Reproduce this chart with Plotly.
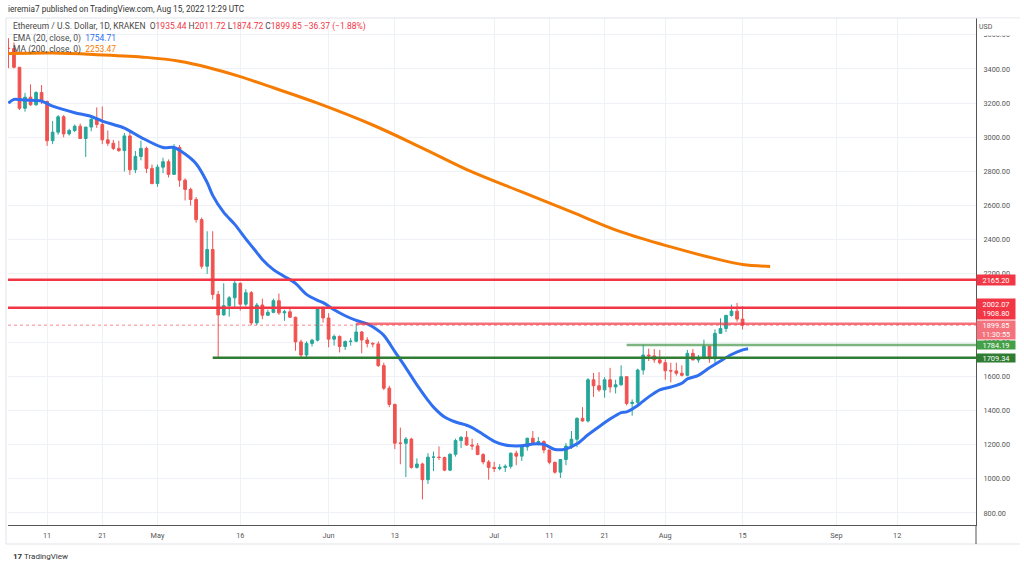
import plotly.graph_objects as go
import pandas as pd

# ---------------- data ----------------
dates = pd.date_range("2022-04-04", "2022-08-15", freq="D")

opens = [3522, 3520, 3410, 3170, 3235, 3190, 3262, 3210, 2980, 3030, 3120, 3020, 3040, 3065, 2993, 3060, 3105, 3075, 2985, 2965, 2935, 2922, 3008, 2810, 2888, 2935, 2818,
         2729, 2825, 2857, 2783, 2940, 2749, 2695, 2636, 2518, 2245, 2343, 2080, 1960, 2014, 2060, 2145, 2023, 2090, 1913, 2018, 1958, 1975, 2043, 1972, 1978, 1946, 1802, 1725, 1793, 1812, 1997,
         1942, 1818, 1834, 1775, 1804, 1806, 1860, 1813, 1793, 1790, 1663, 1531, 1436, 1209, 1208, 1233, 1067, 1087, 995, 1127, 1127, 1125, 1051, 1144, 1224, 1243, 1198, 1193, 1142, 1099,
         1067, 1060, 1067, 1073, 1150, 1133, 1187, 1238, 1212, 1218, 1169, 1097, 1039, 1113, 1192, 1232, 1354, 1339, 1580, 1545, 1521, 1580, 1538, 1551, 1598, 1441, 1448, 1637, 1725, 1720, 1697,
         1680, 1633, 1632, 1618, 1606, 1735, 1696, 1708, 1776, 1703, 1852, 1880, 1957, 1982, 1935.44]
highs = [3580, 3555, 3410, 3260, 3310, 3270, 3306, 3215, 3095, 3130, 3130, 3050, 3075, 3080, 3060, 3125, 3175, 3180, 3040, 2985, 2980, 3025, 3035, 2920, 2980, 2945, 2840,
         2840, 2880, 2870, 2960, 2955, 2760, 2705, 2650, 2530, 2450, 2450, 2100, 2145, 2070, 2160, 2150, 2110, 2100, 2030, 2055, 1990, 2055, 2085, 1990, 2000, 1950, 1815, 1805, 1820, 2005, 2010,
         1970, 1845, 1840, 1810, 1825, 1910, 1865, 1830, 1800, 1805, 1680, 1545, 1440, 1300, 1245, 1240, 1120, 1095, 1150, 1160, 1190, 1130, 1150, 1235, 1250, 1280, 1235, 1210, 1150, 1110,
         1100, 1085, 1085, 1155, 1165, 1190, 1240, 1280, 1245, 1225, 1170, 1100, 1115, 1210, 1280, 1360, 1420, 1590, 1620, 1625, 1595, 1650, 1580, 1665, 1600, 1465, 1645, 1785, 1762, 1760, 1755,
         1700, 1680, 1680, 1665, 1755, 1760, 1725, 1815, 1780, 1875, 1940, 1960, 2020, 2030, 2011.72]
lows = [3405, 3403, 3160, 3150, 3185, 3185, 3195, 2950, 2960, 3015, 3000, 3010, 3030, 2990, 2885, 3035, 3055, 2960, 2950, 2925, 2915, 2800, 2780, 2790, 2865, 2790, 2725,
        2710, 2790, 2765, 2780, 2710, 2630, 2600, 2500, 2230, 2200, 2050, 1708, 1955, 1950, 2000, 1985, 2010, 1900, 1900, 1935, 1955, 1970, 1960, 1925, 1945, 1750, 1705, 1710, 1775, 1805, 1915,
        1770, 1780, 1740, 1755, 1780, 1800, 1735, 1770, 1770, 1655, 1520, 1420, 1175, 1085, 1010, 1060, 1060, 880, 970, 1045, 1110, 1045, 1045, 1130, 1180, 1195, 1170, 1140, 1085, 995,
        1040, 1050, 1040, 1060, 1080, 1105, 1165, 1200, 1195, 1150, 1085, 1030, 1005, 1080, 1175, 1185, 1335, 1330, 1480, 1510, 1475, 1505, 1500, 1545, 1430, 1370, 1420, 1610, 1690, 1680, 1670,
        1580, 1565, 1605, 1600, 1600, 1700, 1680, 1700, 1680, 1670, 1850, 1860, 1950, 1920, 1874.72]
closes = [3520, 3410, 3170, 3235, 3190, 3262, 3210, 2980, 3030, 3120, 3020, 3040, 3065, 2993, 3060, 3105, 3075, 2985, 2965, 2935, 2922, 3008, 2810, 2888, 2935, 2818, 2729,
          2825, 2857, 2783, 2940, 2749, 2695, 2636, 2518, 2245, 2343, 2080, 1960, 2014, 2060, 2145, 2023, 2090, 1913, 2018, 1958, 1975, 2043, 1972, 1978, 1946, 1802, 1725, 1793, 1812, 1997, 1942,
          1818, 1834, 1775, 1804, 1806, 1860, 1813, 1793, 1790, 1663, 1531, 1436, 1209, 1208, 1233, 1067, 1087, 995, 1127, 1127, 1125, 1051, 1144, 1224, 1243, 1198, 1193, 1142, 1099, 1067,
          1060, 1067, 1073, 1150, 1133, 1187, 1238, 1212, 1218, 1169, 1097, 1039, 1113, 1192, 1232, 1354, 1339, 1580, 1545, 1521, 1580, 1538, 1551, 1598, 1441, 1448, 1637, 1725, 1720, 1697, 1680,
          1633, 1632, 1618, 1606, 1735, 1696, 1708, 1776, 1703, 1852, 1880, 1957, 1982, 1935.44, 1899.85]

ema_dates = ["2022-04-04", "2022-04-05", "2022-04-07", "2022-04-10", "2022-04-12", "2022-04-16", "2022-04-19", "2022-04-21",
             "2022-04-25", "2022-04-28", "2022-05-02", "2022-05-04", "2022-05-06", "2022-05-08", "2022-05-10", "2022-05-11",
             "2022-05-13", "2022-05-15", "2022-05-17", "2022-05-19", "2022-05-20", "2022-05-22", "2022-05-24", "2022-05-26",
             "2022-05-28", "2022-05-30", "2022-05-31", "2022-06-02", "2022-06-04", "2022-06-06", "2022-06-08", "2022-06-09",
             "2022-06-11", "2022-06-13", "2022-06-15", "2022-06-17", "2022-06-19", "2022-06-20", "2022-06-22", "2022-06-24",
             "2022-06-26", "2022-06-27", "2022-06-29", "2022-07-01", "2022-07-03", "2022-07-05", "2022-07-07", "2022-07-08",
             "2022-07-10", "2022-07-12", "2022-07-14", "2022-07-16", "2022-07-18", "2022-07-20", "2022-07-22", "2022-07-24",
             "2022-07-25", "2022-07-27", "2022-07-29", "2022-07-31", "2022-08-02", "2022-08-04", "2022-08-05", "2022-08-07",
             "2022-08-09", "2022-08-11", "2022-08-13", "2022-08-15", "2022-08-16"]
ema_values = [3200, 3222, 3218, 3212, 3182, 3144, 3122, 3095,
              3054, 3000, 2940, 2940, 2902, 2845, 2735, 2660,
              2560, 2490, 2405, 2325, 2285, 2225, 2185, 2145,
              2080, 2045, 2032, 1990, 1955, 1928, 1908, 1890,
              1840, 1745, 1650, 1550, 1460, 1420, 1362, 1333,
              1314, 1300, 1260, 1220, 1198, 1193, 1198, 1204,
              1202, 1172, 1175, 1205, 1258, 1305, 1350, 1388,
              1392, 1430, 1480, 1521, 1538, 1560, 1585, 1606,
              1650, 1690, 1728, 1755, 1762]

ma_dates = ["2022-04-04", "2022-04-12", "2022-04-20", "2022-04-29", "2022-05-05", "2022-05-10", "2022-05-16", "2022-05-22",
            "2022-05-30", "2022-06-09", "2022-06-18", "2022-06-27", "2022-07-06", "2022-07-15", "2022-07-24", "2022-08-02",
            "2022-08-11", "2022-08-15", "2022-08-20"]
ma_values = [3490, 3493, 3484, 3468, 3445, 3410, 3355, 3290,
             3200, 3072, 2937, 2797, 2680, 2563, 2446, 2358,
             2282, 2255, 2244]

level_prices = [2165.20, 2002.07, 1908.80, 1784.19, 1709.34]
level_starts = ["2022-04-03 22:00", "2022-04-03 22:00", "2022-06-06", "2022-07-25", "2022-05-11"]
last_price = 1899.85

tick_dates = ["2022-04-11", "2022-04-21", "2022-05-01", "2022-05-16", "2022-06-01", "2022-06-13", "2022-07-01",
              "2022-07-11", "2022-07-21", "2022-08-01", "2022-08-15", "2022-09-01", "2022-09-12"]
tick_text = ["11", "21", "May", "16", "Jun", "13", "Jul", "11", "21", "Aug", "15", "Sep", "12"]

x_start, x_end = "2022-04-03 22:00", "2022-09-26 07:00"
y_min, y_max = 729.7, 3698.6

# ---------------- styling ----------------
UP, DOWN = "#26a69a", "#ef5350"
RED, RED_LIGHT = "#f23645", "rgba(242,54,69,0.7)"
GREEN, GREEN_LIGHT = "#2e7d32", "rgba(56,142,60,0.65)"
BLUE, ORANGE = "#2f6ff0", "#f57c00"
FONT = "Roboto"
TXT = "#4a4a4a"

fig = go.Figure()

# current price dotted line
fig.add_trace(go.Scatter(x=[x_start, x_end], y=[last_price, last_price], mode="lines",
                         line=dict(color="rgba(242,54,69,0.6)", width=1, dash="dot"),
                         hoverinfo="skip", showlegend=False))

fig.add_trace(go.Candlestick(
    x=dates, open=opens, high=highs, low=lows, close=closes,
    increasing=dict(line=dict(color=UP, width=1), fillcolor=UP),
    decreasing=dict(line=dict(color=DOWN, width=1), fillcolor=DOWN),
    whiskerwidth=0, showlegend=False, hoverinfo="skip"))

fig.add_trace(go.Scatter(x=ma_dates, y=ma_values, mode="lines",
                         line=dict(color=ORANGE, width=3, shape="spline", smoothing=1.0),
                         hoverinfo="skip", showlegend=False))
fig.add_trace(go.Scatter(x=ema_dates, y=ema_values, mode="lines",
                         line=dict(color=BLUE, width=3, shape="spline", smoothing=0.8),
                         hoverinfo="skip", showlegend=False))

level_colors = [RED, RED, RED_LIGHT, GREEN_LIGHT, GREEN]
for p, s, c in zip(level_prices, level_starts, level_colors):
    fig.add_trace(go.Scatter(x=[s, x_end], y=[p, p], mode="lines",
                             line=dict(color=c, width=2.5),
                             hoverinfo="skip", showlegend=False))

# ---------------- annotations ----------------
ann = []
def paper_y(px):
    return 1 - (px - 18) / 507.0

ann.append(dict(xref="paper", yref="paper", x=-2 / 968.0, y=paper_y(9), xanchor="left", yanchor="middle",
                text="ieremia7 published on TradingView.com, Aug 15, 2022 12:29 UTC",
                showarrow=False, font=dict(family=FONT, size=8.2, color="#333333")))

def r(v):
    return f'<span style="color:{RED}">{v}</span>'

line1 = ("Ethereum / U.S. Dollar, 1D, KRAKEN  O" + r("1935.44") + " H" + r("2011.72") + " L" + r("1874.72")
         + " C" + r("1899.85") + " " + r("−36.37 (−1.88%)"))
ann.append(dict(xref="paper", yref="paper", x=3 / 968.0, y=paper_y(27), xanchor="left", yanchor="middle",
                text=line1, showarrow=False, font=dict(family=FONT, size=8.5, color=TXT)))
ann.append(dict(xref="paper", yref="paper", x=3 / 968.0, y=paper_y(39), xanchor="left", yanchor="middle",
                text=f'EMA (20, close, 0)  <span style="color:{BLUE}">1754.71</span>',
                showarrow=False, font=dict(family=FONT, size=8.5, color=TXT)))
ann.append(dict(xref="paper", yref="paper", x=3 / 968.0, y=paper_y(50), xanchor="left", yanchor="middle",
                text=f'MA (200, close, 0)  <span style="color:{ORANGE}">2253.47</span>',
                showarrow=False, font=dict(family=FONT, size=8.5, color=TXT)))

# USD label (covers top of 3600 label)
ann.append(dict(xref="paper", yref="paper", x=1, xshift=1, y=1, xanchor="left", yanchor="top",
                text="USD", showarrow=False, align="left", bgcolor="white", width=40, height=14,
                font=dict(family=FONT, size=7, color="#555555")))

# price tags
tags = [
    (level_prices[0], "2165.20", RED, 0, 10),
    (level_prices[1], "2002.07<br>1908.80", RED, -1, 20),
    (last_price, "1899.85<br>11:30:55", "#f4727c", -5, 18),
    (level_prices[3], "1784.19", "#43a047", 0, 8),
    (level_prices[4], "1709.34", GREEN, 0, 8),
]
for y, t, c, ys, h in tags:
    ann.append(dict(xref="paper", yref="y", x=1, xshift=0, y=y, yshift=ys, xanchor="left", yanchor="middle",
                    text=t, showarrow=False, bgcolor=c, width=38, height=h, borderpad=0, align="center",
                    font=dict(family=FONT, size=7.4, color="white")))

# logo
ann.append(dict(xref="paper", yref="paper", x=3 / 968.0, y=paper_y(556), xanchor="left", yanchor="middle",
                text='<b>17</b> TradingView', showarrow=False,
                font=dict(family=FONT, size=8, color="#333333")))

shapes = [
    dict(type="line", xref="paper", yref="paper", x0=-2 / 968.0, x1=1 + 44 / 968.0, y0=1, y1=1,
         line=dict(color="#e0e3eb", width=1)),
    dict(type="line", xref="paper", yref="paper", x0=-2 / 968.0, x1=-2 / 968.0, y0=1, y1=paper_y(544),
         line=dict(color="#e0e3eb", width=1)),
    dict(type="line", xref="paper", yref="paper", x0=-2 / 968.0, x1=1 + 44 / 968.0, y0=paper_y(544), y1=paper_y(544),
         line=dict(color="#e0e3eb", width=1)),
    dict(type="line", xref="paper", yref="paper", x0=1, x1=1, y0=0, y1=paper_y(544),
         line=dict(color="#555555", width=1)),
]

fig.update_layout(
    width=1024, height=567,
    margin=dict(l=8, r=48, t=18, b=42),
    paper_bgcolor="white", plot_bgcolor="white",
    showlegend=False,
    annotations=ann, shapes=shapes,
    font=dict(family=FONT),
    xaxis=dict(type="date", range=[x_start, x_end], rangeslider=dict(visible=False),
               tickvals=tick_dates, ticktext=tick_text, showgrid=True, gridcolor="#eef1f6", gridwidth=1,
               showline=True, linecolor="#555555", linewidth=1, ticks="outside", ticklen=3,
               tickcolor="rgba(0,0,0,0)", tickfont=dict(family=FONT, size=7.3, color="#555555"),
               zeroline=False, fixedrange=True),
    yaxis=dict(side="right", range=[y_min, y_max], dtick=200, tick0=0, tickformat=".2f",
               showgrid=True, gridcolor="#eef1f6", gridwidth=1, showline=True, linecolor="#555555",
               linewidth=1, ticks="outside", ticklen=5, tickcolor="rgba(0,0,0,0)",
               tickfont=dict(family=FONT, size=7.3, color="#555555"), zeroline=False, fixedrange=True),
)

fig.write_html("out.html", config={"displayModeBar": False},
               post_script="document.body.style.margin='0px';")
